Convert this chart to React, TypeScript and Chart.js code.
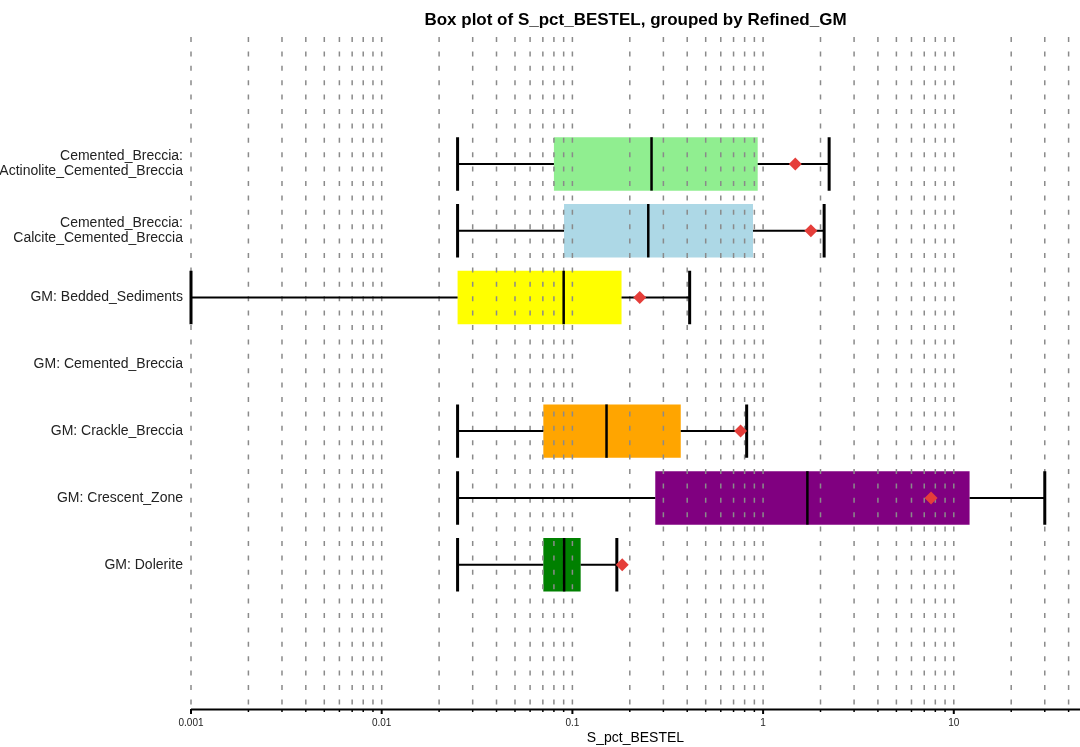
import React, { useEffect, useRef } from "react";
import { Chart, registerables } from "chart.js";

Chart.register(...registerables);

// ---- Data ----
const categories = [
  "Cemented_Breccia:\nActinolite_Cemented_Breccia",
  "Cemented_Breccia:\nCalcite_Cemented_Breccia",
  "GM: Bedded_Sediments",
  "GM: Cemented_Breccia",
  "GM: Crackle_Breccia",
  "GM: Crescent_Zone",
  "GM: Dolerite",
];
const whiskerLow: (number | null)[] = [0.025, 0.025, 0.001, null, 0.025, 0.025, 0.025];
const q1: (number | null)[] = [0.08, 0.0904, 0.025, null, 0.0704, 0.272, 0.0704];
const median: (number | null)[] = [0.26, 0.25, 0.09, null, 0.151, 1.707, 0.0905];
const q3: (number | null)[] = [0.937, 0.885, 0.181, null, 0.37, 12.1, 0.1105];
const whiskerHigh: (number | null)[] = [2.22, 2.09, 0.412, null, 0.82, 30, 0.171];
const means: (number | null)[] = [1.475, 1.78, 0.2255, null, 0.762, 7.6, 0.1825];
const boxColors: (string | null)[] = ["#90EE90", "#ADD8E6", "#FFFF00", null, "#FFA500", "#800080", "#008000"];

const decadeTicks = [0.001, 0.01, 0.1, 1, 10];
const decadeLabels = ["0.001", "0.01", "0.1", "1", "10"];
const minorMultipliers = [1, 2, 3, 4, 5, 6, 7, 8, 9];
const xMin = 0.001;
const xMax = 45.9;
const yMin = -0.9;
const yMax = 9.16;

const titleText = "Box plot of S_pct_BESTEL, grouped by Refined_GM";
const xTitle = "S_pct_BESTEL";

const FONT = "'Liberation Sans', Arial, Helvetica, sans-serif";
const BOX_HALF = 0.4;

const xTickValues: number[] = [];
decadeTicks.forEach((d) => {
  minorMultipliers.forEach((m) => {
    const v = Number((m * d).toPrecision(6));
    if (v <= xMax) xTickValues.push(v);
  });
});

const decadeIndex = (v: number) =>
  decadeTicks.findIndex((d) => Math.abs(Math.log10(v) - Math.log10(d)) < 1e-9);

const overlayPlugin = {
  id: "boxOverlay",
  afterDatasetDraw(chart: any, args: any) {
    if (args.index !== 0) return;
    const ctx = chart.ctx;
    const xs = chart.scales.x;
    const ys = chart.scales.y;
    const area = chart.chartArea;
    ctx.save();
    // dashed grid lines (drawn over boxes)
    ctx.strokeStyle = "#8a8a8a";
    ctx.lineWidth = 1.5;
    ctx.setLineDash([5, 9.4]);
    xs.ticks.forEach((t: any) => {
      const px = xs.getPixelForValue(t.value);
      ctx.beginPath();
      ctx.moveTo(px, area.top);
      ctx.lineTo(px, area.bottom);
      ctx.stroke();
    });
    ctx.setLineDash([]);
    // whiskers, caps, medians
    ctx.strokeStyle = "#000";
    categories.forEach((_, i) => {
      if (median[i] == null) return;
      const yc = ys.getPixelForValue(i + 1);
      const half = Math.abs(ys.getPixelForValue(i + 1 + BOX_HALF) - yc);
      const xLo = xs.getPixelForValue(whiskerLow[i]);
      const xQ1 = xs.getPixelForValue(q1[i]);
      const xMed = xs.getPixelForValue(median[i]);
      const xQ3 = xs.getPixelForValue(q3[i]);
      const xHi = xs.getPixelForValue(whiskerHigh[i]);
      ctx.lineWidth = 2;
      ctx.beginPath();
      ctx.moveTo(xLo, yc);
      ctx.lineTo(xQ1, yc);
      ctx.moveTo(xQ3, yc);
      ctx.lineTo(xHi, yc);
      ctx.stroke();
      ctx.lineWidth = 3;
      ctx.beginPath();
      ctx.moveTo(xLo, yc - half);
      ctx.lineTo(xLo, yc + half);
      ctx.moveTo(xHi, yc - half);
      ctx.lineTo(xHi, yc + half);
      ctx.stroke();
      ctx.lineWidth = 2.5;
      ctx.beginPath();
      ctx.moveTo(xMed, yc - half);
      ctx.lineTo(xMed, yc + half);
      ctx.stroke();
    });
    ctx.restore();
  },
  afterDraw(chart: any) {
    const ctx = chart.ctx;
    const xs = chart.scales.x;
    const area = chart.chartArea;
    ctx.save();
    ctx.strokeStyle = "#000";
    ctx.lineWidth = 2;
    ctx.beginPath();
    ctx.moveTo(area.left, area.bottom + 0.5);
    ctx.lineTo(area.right, area.bottom + 0.5);
    ctx.stroke();
    xs.ticks.forEach((t: any) => {
      const px = xs.getPixelForValue(t.value);
      const major = decadeIndex(t.value) >= 0;
      ctx.lineWidth = major ? 2 : 1.5;
      ctx.beginPath();
      ctx.moveTo(px, area.bottom);
      ctx.lineTo(px, area.bottom + (major ? 5 : 3));
      ctx.stroke();
    });
    ctx.restore();
  },
};

export default function App() {
  const canvasRef = useRef<HTMLCanvasElement | null>(null);

  useEffect(() => {
    if (!canvasRef.current) return;
    const idx = categories.map((_, i) => i).filter((i) => q1[i] != null);
    const chart = new Chart(canvasRef.current, {
      type: "bar",
      data: {
        datasets: [
          {
            type: "bar",
            indexAxis: "y",
            data: idx.map((i) => ({ x: [q1[i], q3[i]], y: i + 1 })),
            backgroundColor: idx.map((i) => boxColors[i]),
            borderWidth: 0,
            categoryPercentage: 1,
            barPercentage: 0.8,
            order: 2,
          } as any,
          {
            type: "scatter",
            data: idx.map((i) => ({ x: means[i], y: i + 1 })),
            pointStyle: "rectRot",
            pointRadius: 6.5,
            pointHoverRadius: 6.5,
            backgroundColor: "#E53E3A",
            borderColor: "#E53E3A",
            borderWidth: 0,
            order: 1,
          } as any,
        ],
      },
      options: {
        animation: false,
        responsive: true,
        maintainAspectRatio: false,
        devicePixelRatio: 1,
        layout: { padding: 0, autoPadding: false },
        plugins: {
          legend: { display: false },
          tooltip: { enabled: false },
          title: {
            display: true,
            text: titleText,
            fullSize: false,
            color: "#000",
            font: { family: FONT, size: 17, weight: "bold" },
            padding: { top: 10, bottom: 6.6 },
          },
        },
        scales: {
          x: {
            type: "logarithmic",
            min: xMin,
            max: xMax,
            offset: false,
            grid: { display: false, drawTicks: false },
            border: { display: false },
            afterBuildTicks: (scale: any) => {
              scale.ticks = xTickValues.map((v) => ({ value: v, major: decadeIndex(v) >= 0 }));
            },
            afterFit: (scale: any) => {
              scale.height = 38;
            },
            ticks: {
              autoSkip: false,
              maxRotation: 0,
              minRotation: 0,
              padding: 8,
              color: "#222",
              font: { family: FONT, size: 10 },
              callback: (v: any) => {
                const k = decadeIndex(Number(v));
                return k >= 0 ? decadeLabels[k] : "";
              },
            },
            title: {
              display: true,
              text: xTitle,
              color: "#000",
              font: { family: FONT, size: 14 },
              padding: { top: 0, bottom: 0 },
            },
          },
          y: {
            type: "linear",
            reverse: true,
            offset: false,
            min: yMin,
            max: yMax,
            grid: { display: false, drawTicks: false },
            border: { display: false },
            afterBuildTicks: (scale: any) => {
              scale.ticks = categories.map((_, i) => ({ value: i + 1 }));
            },
            afterFit: (scale: any) => {
              scale.width = 191;
            },
            ticks: {
              autoSkip: false,
              padding: 8,
              color: "#222",
              font: { family: FONT, size: 14, lineHeight: 1.07 },
              callback: (v: any) => {
                const c = categories[Math.round(Number(v)) - 1];
                return c ? c.split("\n") : "";
              },
            },
          },
        },
      } as any,
      plugins: [overlayPlugin],
    });
    return () => chart.destroy();
  }, []);

  return (
    <div style={{ position: "fixed", left: 0, top: 0, width: 1080, height: 747, background: "#fff" }}>
      <canvas ref={canvasRef} />
    </div>
  );
}
